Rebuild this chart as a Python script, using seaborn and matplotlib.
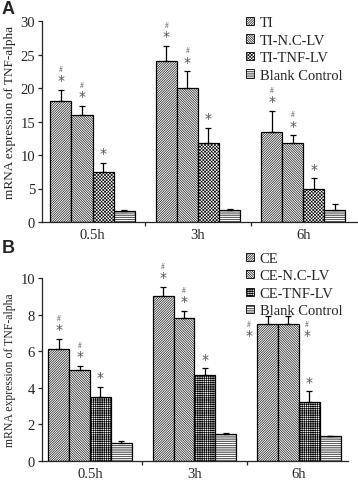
import numpy as np
import pandas as pd
import matplotlib.pyplot as plt
import seaborn as sns

# 데이터
times = ["0.5h", "3h", "6h"]

groups_a = ["TI", "TI-N.C-LV", "TI-TNF-LV", "Blank Control"]
ti = [18.0, 24.0, 13.4]
ti_err = [1.75, 2.3, 3.2]
ti_nc = [16.0, 20.0, 11.75]
ti_nc_err = [1.3, 2.5, 1.2]
ti_tnf = [7.5, 11.8, 5.0]
ti_tnf_err = [1.3, 2.3, 1.5]
blank_a = [1.6, 1.75, 1.8]
blank_a_err = [0.15, 0.25, 0.9]
marks_a = [["#*", "#*", "#*"], ["#*", "#*", "#*"], ["*", "*", "*"], ["", "", ""]]

groups_b = ["CE", "CE-N.C-LV", "CE-TNF-LV", "Blank Control"]
ce = [6.1, 9.0, 7.5]
ce_err = [0.58, 0.5, 0.4]
ce_nc = [5.0, 7.8, 7.5]
ce_nc_err = [0.2, 0.41, 0.4]
ce_tnf = [3.5, 4.7, 3.2]
ce_tnf_err = [0.56, 0.36, 0.6]
blank_b = [1.0, 1.5, 1.35]
blank_b_err = [0.1, 0.03, 0.03]
marks_b = [["#*", "#*", "#*"], ["#*", "#*", "#*"], ["*", "*", "*"], ["", "", ""]]

sns.set_style("ticks")
plt.rcParams["font.family"] = ["Liberation Serif", "DejaVu Serif"]
plt.rcParams["hatch.linewidth"] = 0.45
plt.rcParams["axes.linewidth"] = 0.9

fig = plt.figure(figsize=(3.58, 4.81), dpi=100)
ax_a = fig.add_axes([42 / 358, 1 - 223 / 481, 315 / 358, 201 / 481])
ax_b = fig.add_axes([42 / 358, 1 - 462 / 481, 306 / 358, 183 / 481])


def draw_panel(ax, groups, vals, errs, marks, hatches, ymax, ystep, xlim, leg_top,
               ylab_size, side_idx=None):
    rows = []
    for g, v in zip(groups, vals):
        for t, y in zip(times, v):
            rows.append({"time": t, "group": g, "value": y})
    df = pd.DataFrame(rows)
    sns.barplot(data=df, x="time", y="value", hue="group", order=times, hue_order=groups,
                palette=["white"] * 4, edgecolor="black", linewidth=0.9,
                errorbar=None, width=0.8, ax=ax, legend=False)
    bars = list(ax.containers)
    for k, cont in enumerate(bars):
        for j, p in enumerate(cont.patches):
            p.set_hatch(hatches[k])
            x = p.get_x() + p.get_width() / 2
            top = vals[k][j]
            e = errs[k][j]
            ax.errorbar(x, top, yerr=[[0], [e]], fmt="none", ecolor="black",
                        elinewidth=0.9, capsize=2.5, capthick=0.9)
            m = marks[k][j]
            if not m:
                continue
            if side_idx is not None and j == side_idx and k < 2:
                # 범례와 겹치는 막대는 옆에 표시
                xs = p.get_x() if k == 0 else p.get_x() + p.get_width()
                dx = -6 if k == 0 else 6
                ax.annotate("*", (xs, top), xytext=(dx, -8), textcoords="offset points",
                            ha="center", va="center", fontsize=10, color="#555555",
                            family="DejaVu Sans")
                ax.annotate("#", (xs, top), xytext=(dx, 0), textcoords="offset points",
                            ha="center", va="center", fontsize=5.5, color="#555555")
                continue
            ax.annotate("*", (x, top + e), xytext=(0, 7), textcoords="offset points",
                        ha="center", va="center", fontsize=10, color="#555555",
                        family="DejaVu Sans")
            if "#" in m:
                ax.annotate("#", (x, top + e), xytext=(0, 15), textcoords="offset points",
                            ha="center", va="center", fontsize=5.5, color="#555555")
    handles = [c.patches[0] for c in bars]
    leg = ax.legend(handles, groups, loc="upper left", bbox_to_anchor=(0.66, leg_top),
                    bbox_transform=fig.transFigure, frameon=False, fontsize=10.5,
                    handlelength=0.5, handleheight=0.5, handletextpad=0.4,
                    labelspacing=0.3, borderpad=0.2)
    for h in leg.legend_handles:
        h.set_linewidth(0.6)
    ax.set_ylim(0, ymax)
    ax.set_xlim(*xlim)
    ax.set_yticks(np.arange(0, ymax + 0.01, ystep))
    ax.set_xticks([0.5, 1.5], minor=True)
    ax.tick_params(axis="x", which="major", direction="in", length=6, width=0.9,
                   labelsize=10.5, pad=4)
    ax.tick_params(axis="x", which="minor", direction="out", length=3, width=0.9)
    ax.tick_params(axis="y", direction="out", length=3, width=0.9, labelsize=10.5, pad=2)
    ax.set_xlabel("")
    ax.set_ylabel("mRNA expression of TNF-alpha", fontsize=ylab_size)
    sns.despine(ax=ax)


draw_panel(ax_a, groups_a, [ti, ti_nc, ti_tnf, blank_a],
           [ti_err, ti_nc_err, ti_tnf_err, blank_a_err], marks_a,
           ["/" * 14, "\\" * 14, "x" * 10, "-" * 9], 30, 5, (-0.48, 2.51), 0.985, 9.5)
draw_panel(ax_b, groups_b, [ce, ce_nc, ce_tnf, blank_b],
           [ce_err, ce_nc_err, ce_tnf_err, blank_b_err], marks_b,
           ["/" * 14, "\\" * 14, "+" * 9, "-" * 9], 10, 2, (-0.46, 2.47), 0.495, 8.5,
           side_idx=2)

ax_a.yaxis.set_label_coords(-0.083, 0.55)
ax_b.yaxis.set_label_coords(-0.086, 0.5)

fig.text(0.005, 0.998, "A", fontsize=13, fontweight="bold", family="Liberation Sans",
         va="top", ha="left")
fig.text(0.005, 0.5, "B", fontsize=13, fontweight="bold", family="Liberation Sans",
         va="top", ha="left")

fig.savefig("out.png", dpi=100)
